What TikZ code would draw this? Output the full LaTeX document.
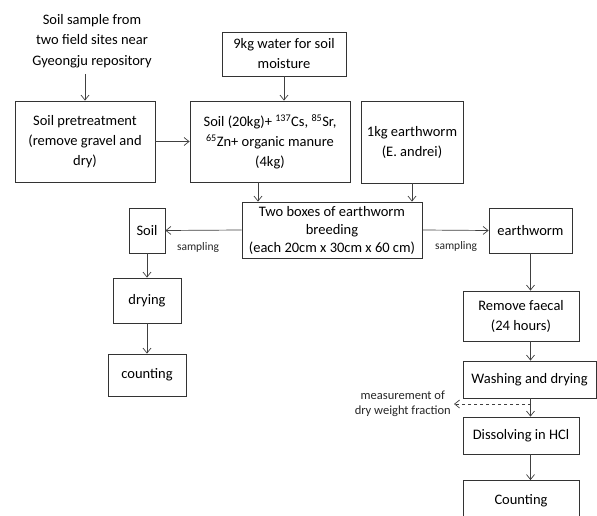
\documentclass[tikz,border=0pt]{standalone}
\usepackage{fontspec}
\setmainfont{Carlito}
\usetikzlibrary{arrows.meta}
\begin{document}
\begin{tikzpicture}[x=1pt,y=-1pt,
  box/.style={draw=black!80, line width=0.8pt, inner sep=0pt, align=center, font=\fontsize{14.5}{20}\selectfont},
  arr/.style={draw=black!75, line width=0.7pt, -{Straight Barb[length=5pt,width=8pt]}},
  lbl/.style={inner sep=0pt, align=center, text=black!85, font=\fontsize{11.5}{15}\selectfont}]
\useasboundingbox (0,0) rectangle (597,516);
\node[inner sep=0pt, align=center, font=\fontsize{14.5}{20.5}\selectfont] (src) at (92,41) {Soil sample from\\two field sites near\\Gyeongju repository};
\node[box, minimum width=140, minimum height=81] (pre) at (85,141.5) {Soil pretreatment\\(remove gravel and\\dry)};
\node[box, minimum width=160, minimum height=81] (mix) at (270,141.5) {Soil (20kg)+ \textsuperscript{137}Cs, \textsuperscript{85}Sr,\\\textsuperscript{65}Zn+ organic manure\\(4kg)};
\node[box, minimum width=124, minimum height=44] (water) at (284,54) {9kg water for soil\\moisture};
\node[box, minimum width=102, minimum height=82] (worm) at (412,142) {1kg earthworm\\(E. andrei)};
\node[box, minimum width=180, minimum height=56, font=\fontsize{14.5}{18}\selectfont] (boxes) at (332,230) {Two boxes of earthworm\\breeding\\(each 20cm x 30cm x 60 cm)};
\node[box, minimum width=36, minimum height=45] (soil) at (147,230.5) {Soil};
\node[box, minimum width=68, minimum height=45] (dry) at (147,300.5) {drying};
\node[box, minimum width=78, minimum height=42] (cnt) at (147,375) {counting};
\node[box, minimum width=83, minimum height=45] (ew) at (530.5,230.5) {earthworm};
\node[box, minimum width=116, minimum height=50] (rem) at (521,316) {Remove faecal\\(24 hours)};
\node[box, minimum width=133, minimum height=37] (wash) at (529.5,379.5) {Washing and drying};
\node[box, minimum width=116, minimum height=37] (diss) at (521,435.5) {Dissolving in HCl};
\node[box, minimum width=116, minimum height=40] (cnt2) at (521,500.5) {Counting};
\node[lbl] (s1) at (198,247) {sampling};
\node[lbl] (s2) at (456,246) {sampling};
\node[lbl, anchor=east, font=\fontsize{12.5}{15}\selectfont] (meas) at (451,404) {measurement of\\dry weight fraction};
\coordinate (d) at (531,404);
\coordinate (de) at (454,404);
\draw[arr] (pre.north |- src.south) ++(0,6) -- (pre.north);
\draw[arr] (water) -- (water.south |- mix.north);
\draw[arr] (pre.east) -- (mix.west);
\draw[arr] ([xshift=-12pt]mix.south) -- ([xshift=-12pt]mix.south |- boxes.north);
\draw[arr] (worm.south) -- (worm.south |- boxes.north);
\draw[arr] (boxes.west) -- (soil.east);
\draw[arr] (boxes.east) -- (ew.west);
\draw[arr] (soil.south) -- (dry.north);
\draw[arr] (dry.south) -- (cnt.north);
\draw[arr] (ew.south) -- (ew.south |- rem.north);
\draw[arr] (ew.south |- rem.south) -- (ew.south |- wash.north);
\draw[arr] (ew.south |- wash.south) -- (ew.south |- diss.north);
\draw[arr] (ew.south |- diss.south) -- (ew.south |- cnt2.north);
\draw[arr, dashed] (d) -- (de);
\end{tikzpicture}
\end{document}
